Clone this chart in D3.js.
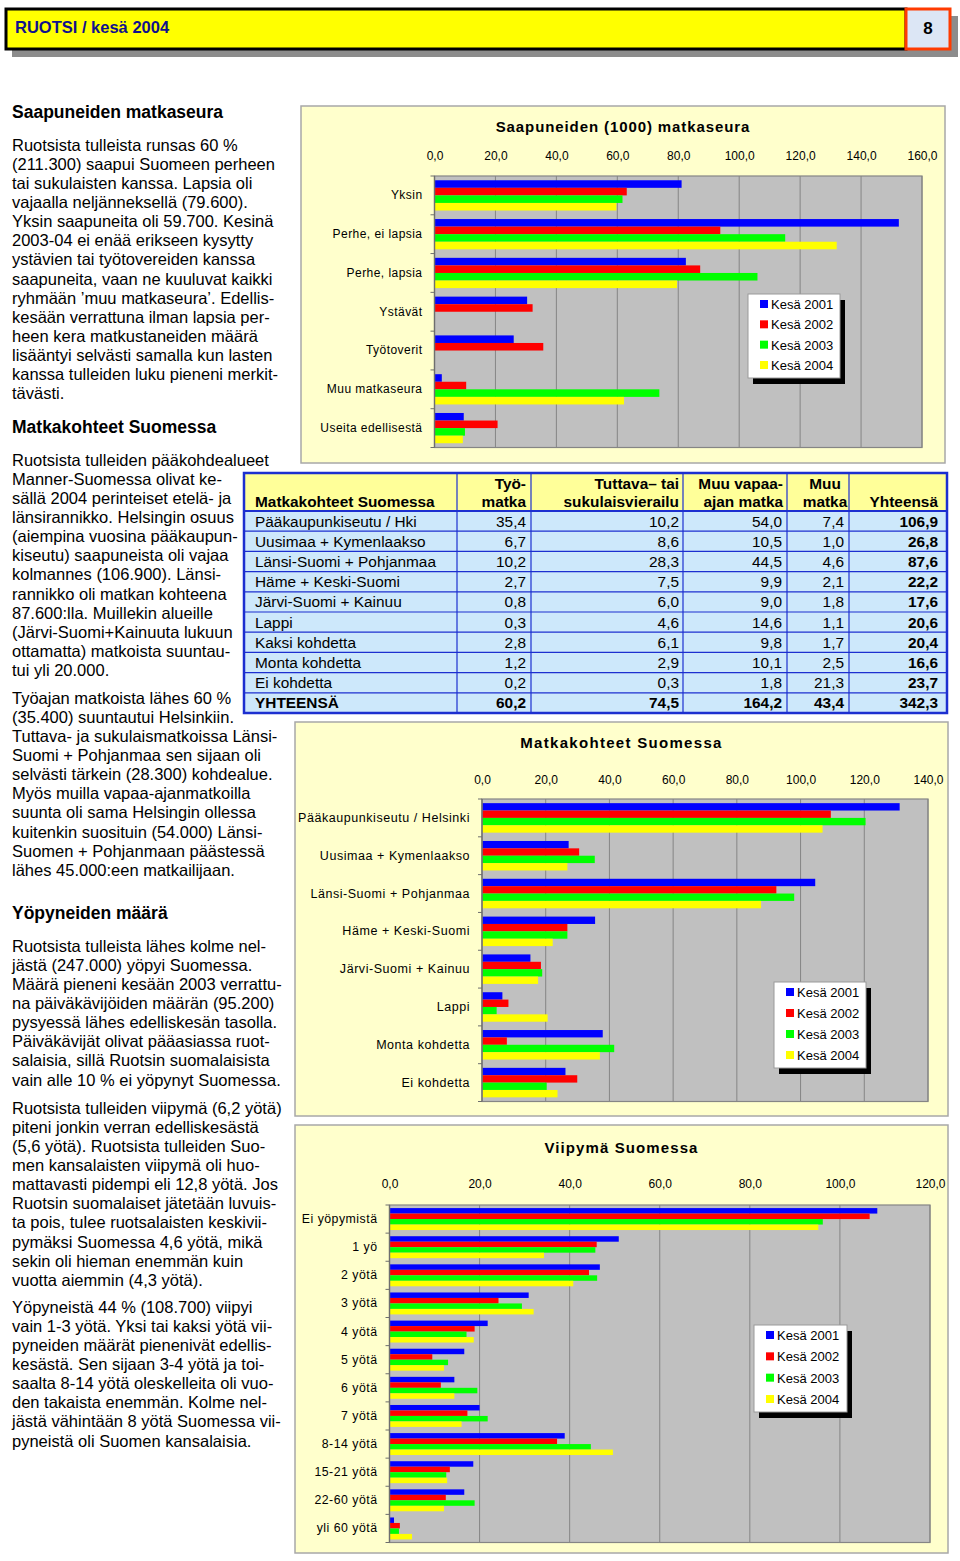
<!DOCTYPE html>
<html lang="fi">
<head>
<meta charset="UTF-8">
<title>RUOTSI / kesä 2004</title>
<script src="https://cdnjs.cloudflare.com/ajax/libs/d3/7.8.5/d3.min.js"></script>
<style>
    body { margin: 0; background: #fff; }
    svg { display: block; font-family: "Liberation Sans", Arial, sans-serif; }
    .body-text { font-size: 16.5px; fill: #000; }
    .heading { font-size: 17.5px; font-weight: bold; fill: #000; }
    .cat text { fill: #000; }
    .ticks text { font-size: 12px; fill: #000; }
    .ctitle { font-size: 15px; font-weight: bold; }
    .legend text { font-size: 13px; }
    .tbl { font-size: 15.4px; }
</style>
</head>
<body>
<script>
// --- data ---
const seriesNames = ["Kesä 2001", "Kesä 2002", "Kesä 2003", "Kesä 2004"];
const seriesColors = ["#0000ff", "#ff0000", "#00ff00", "#ffff00"];

// Saapuneiden (1000) matkaseura
const companyCats = ["Yksin", "Perhe, ei lapsia", "Perhe, lapsia", "Ystävät", "Työtoverit", "Muu matkaseura", "Useita edellisestä"];
const company2001 = [81.1, 152.4, 82.5, 30.4, 26.0, 2.4, 9.6];
const company2002 = [63.1, 93.8, 87.2, 32.2, 35.7, 10.4, 20.7];
const company2003 = [61.7, 115.1, 106.0, null, null, 73.8, 10.0];
const company2004 = [59.7, 132.0, 79.6, null, null, 62.2, 9.3];

// Matkakohteet Suomessa
const destCats = ["Pääkaupunkiseutu / Helsinki", "Uusimaa + Kymenlaakso", "Länsi-Suomi + Pohjanmaa", "Häme + Keski-Suomi", "Järvi-Suomi + Kainuu", "Lappi", "Monta kohdetta", "Ei kohdetta"];
const dest2001 = [131.1, 27.2, 104.6, 35.5, 15.2, 6.4, 37.9, 26.2];
const dest2002 = [109.5, 30.5, 92.4, 26.8, 18.5, 8.3, 7.8, 29.9];
const dest2003 = [120.4, 35.4, 98.0, 26.8, 18.9, 4.6, 41.5, 20.3];
const dest2004 = [106.9, 26.8, 87.6, 22.2, 17.6, 20.6, 37.0, 23.7];

// Viipymä Suomessa
const stayCats = ["Ei yöpymistä", "1 yö", "2 yötä", "3 yötä", "4 yötä", "5 yötä", "6 yötä", "7 yötä", "8-14 yötä", "15-21 yötä", "22-60 yötä", "yli 60 yötä"];
const stay2001 = [108.3, 50.9, 46.7, 30.9, 21.8, 16.6, 14.4, 20.0, 38.9, 18.6, 16.6, 1.0];
const stay2002 = [106.6, 46.0, 44.3, 24.2, 18.9, 9.5, 11.4, 17.3, 37.2, 13.4, 12.5, 2.3];
const stay2003 = [96.2, 45.7, 46.1, 29.4, 17.1, 13.0, 19.5, 21.8, 44.7, 12.6, 18.9, 2.1];
const stay2004 = [95.2, 34.3, 40.8, 32.0, 18.7, 12.1, 14.4, 16.0, 49.6, 12.8, 12.1, 5.0];

// taulukko
const tableHead = [["", "Matkakohteet Suomessa"], ["Työ-", "matka"], ["Tuttava– tai", "sukulaisvierailu"], ["Muu vapaa-", "ajan matka"], ["Muu", "matka"], ["", "Yhteensä"]];
const tableRows = ["Pääkaupunkiseutu / Hki", "Uusimaa + Kymenlaakso", "Länsi-Suomi + Pohjanmaa", "Häme + Keski-Suomi", "Järvi-Suomi + Kainuu", "Lappi", "Kaksi kohdetta", "Monta kohdetta", "Ei kohdetta", "YHTEENSÄ"];
const colTyo = [35.4, 6.7, 10.2, 2.7, 0.8, 0.3, 2.8, 1.2, 0.2, 60.2];
const colTuttava = [10.2, 8.6, 28.3, 7.5, 6.0, 4.6, 6.1, 2.9, 0.3, 74.5];
const colVapaa = [54.0, 10.5, 44.5, 9.9, 9.0, 14.6, 9.8, 10.1, 1.8, 164.2];
const colMuu = [7.4, 1.0, 4.6, 2.1, 1.8, 1.1, 1.7, 2.5, 21.3, 43.4];
const colYht = [106.9, 26.8, 87.6, 22.2, 17.6, 20.6, 20.4, 16.6, 23.7, 342.3];

// teksti
const para1 = ["Ruotsista tulleista runsas 60 %", "(211.300) saapui Suomeen perheen", "tai sukulaisten kanssa. Lapsia oli", "vajaalla neljänneksellä (79.600).", "Yksin saapuneita oli 59.700. Kesinä", "2003-04 ei enää erikseen kysytty", "ystävien tai työtovereiden kanssa", "saapuneita, vaan ne kuuluvat kaikki", "ryhmään ’muu matkaseura’. Edellis-", "kesään verrattuna ilman lapsia per-", "heen kera matkustaneiden määrä", "lisääntyi selvästi samalla kun lasten", "kanssa tulleiden luku pieneni merkit-", "tävästi."];
const para2 = ["Ruotsista tulleiden pääkohdealueet", "Manner-Suomessa olivat ke-", "sällä 2004 perinteiset etelä- ja", "länsirannikko. Helsingin osuus", "(aiempina vuosina pääkaupun-", "kiseutu) saapuneista oli vajaa", "kolmannes (106.900). Länsi-", "rannikko oli matkan kohteena", "87.600:lla. Muillekin alueille", "(Järvi-Suomi+Kainuuta lukuun", "ottamatta) matkoista suuntau-", "tui yli 20.000."];
const para3 = ["Työajan matkoista lähes 60 %", "(35.400) suuntautui Helsinkiin.", "Tuttava- ja sukulaismatkoissa Länsi-", "Suomi + Pohjanmaa sen sijaan oli", "selvästi tärkein (28.300) kohdealue.", "Myös muilla vapaa-ajanmatkoilla", "suunta oli sama Helsingin ollessa", "kuitenkin suosituin (54.000) Länsi-", "Suomen + Pohjanmaan päästessä", "lähes 45.000:een matkailijaan."];
const para4 = ["Ruotsista tulleista lähes kolme nel-", "jästä (247.000) yöpyi Suomessa.", "Määrä pieneni kesään 2003 verrattu-", "na päiväkävijöiden määrän (95.200)", "pysyessä lähes edelliskesän tasolla.", "Päiväkävijät olivat pääasiassa ruot-", "salaisia, sillä Ruotsin suomalaisista", "vain alle 10 % ei yöpynyt Suomessa."];
const para5 = ["Ruotsista tulleiden viipymä (6,2 yötä)", "piteni jonkin verran edelliskesästä", "(5,6 yötä). Ruotsista tulleiden Suo-", "men kansalaisten viipymä oli huo-", "mattavasti pidempi eli 12,8 yötä. Jos", "Ruotsin suomalaiset jätetään luvuis-", "ta pois, tulee ruotsalaisten keskivii-", "pymäksi Suomessa 4,6 yötä, mikä", "sekin oli hieman enemmän kuin", "vuotta aiemmin (4,3 yötä)."];
const para6 = ["Yöpyneistä 44 % (108.700) viipyi", "vain 1-3 yötä. Yksi tai kaksi yötä vii-", "pyneiden määrät pienenivät edellis-", "kesästä. Sen sijaan 3-4 yötä ja toi-", "saalta 8-14 yötä oleskelleita oli vuo-", "den takaista enemmän. Kolme nel-", "jästä vähintään 8 yötä Suomessa vii-", "pyneistä oli Suomen kansalaisia."];

const fmt = v => d3.format(".1f")(v).replace(".", ",");

const svg = d3.select("body").append("svg")
    .attr("width", 960)
    .attr("height", 1561);

// otsikkopalkki
svg.append("rect").attr("x", 12).attr("y", 16).attr("width", 946).attr("height", 41).attr("fill", "#8c8c8c");
svg.append("rect").attr("x", 6).attr("y", 9).attr("width", 900).attr("height", 40)
    .attr("fill", "#ffff00").attr("stroke", "#000").attr("stroke-width", 3);
svg.append("rect").attr("x", 906).attr("y", 9).attr("width", 44).attr("height", 40)
    .attr("fill", "#dce6f5").attr("stroke", "#ff3b00").attr("stroke-width", 3);
svg.append("text").attr("x", 15).attr("y", 33)
    .attr("font-size", 16.5).attr("font-weight", "bold").attr("fill", "#10108c")
    .text("RUOTSI / kesä 2004");
svg.append("text").attr("x", 928).attr("y", 34).attr("text-anchor", "middle")
    .attr("font-size", 17).attr("font-weight", "bold").text("8");

// vasemman palstan teksti
function heading(txt, cy) {
    svg.append("text").attr("class", "heading").attr("x", 12).attr("y", cy + 6).text(txt);
}
function para(lines, cy) {
    svg.append("g").selectAll("text").data(lines).enter().append("text")
        .attr("class", "body-text")
        .attr("x", 12)
        .attr("y", (d, i) => cy + 5.5 + i * 19.15)
        .text(d => d);
}
heading("Saapuneiden matkaseura", 112);
para(para1, 145);
heading("Matkakohteet Suomessa", 427);
para(para2, 460);
para(para3, 698);
heading("Yöpyneiden määrä", 913);
para(para4, 946);
para(para5, 1108);
para(para6, 1307);

// pylväskuviot
function barChart(o) {
    const g = svg.append("g");
    g.append("rect")
        .attr("x", o.panel[0]).attr("y", o.panel[1])
        .attr("width", o.panel[2] - o.panel[0]).attr("height", o.panel[3] - o.panel[1])
        .attr("fill", "#ffffcc").attr("stroke", "#a8a8a8").attr("stroke-width", 1.5);

    const x = d3.scaleLinear().domain([0, o.max]).range([o.x0, o.x1]);
    const y = d3.scaleBand().domain(o.cats).range([o.y0, o.y1]);
    const bw = y.bandwidth();
    const s = d3.scaleBand().domain(d3.range(seriesNames.length)).range([bw * 0.11, bw * 0.89]);

    g.append("rect")
        .attr("x", o.x0).attr("y", o.y0)
        .attr("width", o.x1 - o.x0).attr("height", o.y1 - o.y0)
        .attr("fill", "#c0c0c0");

    g.append("g").selectAll("line").data(d3.range(20, o.max + 1, 20)).enter().append("line")
        .attr("x1", d => x(d)).attr("x2", d => x(d))
        .attr("y1", o.y0).attr("y2", o.y1)
        .attr("stroke", "#858585").attr("stroke-width", 1);

    o.series.forEach((vals, si) => {
        g.append("g").selectAll("rect")
            .data(vals.map((v, i) => ({ v: v, c: o.cats[i] })).filter(d => d.v != null))
            .enter().append("rect")
            .attr("x", x(0))
            .attr("y", d => y(d.c) + s(si))
            .attr("width", d => x(d.v) - x(0))
            .attr("height", s.bandwidth())
            .attr("fill", seriesColors[si]);
    });

    g.append("rect")
        .attr("x", o.x0).attr("y", o.y0)
        .attr("width", o.x1 - o.x0).attr("height", o.y1 - o.y0)
        .attr("fill", "none").attr("stroke", "#858585").attr("stroke-width", 1.2);
    g.append("line").attr("x1", o.x0).attr("x2", o.x0).attr("y1", o.y0).attr("y2", o.y1)
        .attr("stroke", "#6e6e6e").attr("stroke-width", 1.3);

    // luokkarajojen merkit
    g.append("g").selectAll("line").data(o.cats.map(c => y(c)).concat([o.y1])).enter().append("line")
        .attr("x1", o.x0 - 4).attr("x2", o.x0)
        .attr("y1", d => d).attr("y2", d => d)
        .attr("stroke", "#6e6e6e");

    const top = g.append("g").attr("class", "ticks")
        .attr("transform", `translate(0,${o.tickY + 5})`)
        .call(d3.axisTop(x).tickValues(d3.range(0, o.max + 1, 20)).tickSize(0).tickPadding(0).tickFormat(fmt));
    top.select(".domain").remove();
    top.selectAll("text").attr("font-family", null).attr("font-size", null);

    const left = g.append("g").attr("class", "cat")
        .attr("transform", `translate(${o.x0},0)`)
        .call(d3.axisLeft(y).tickSize(0).tickPadding(12));
    left.select(".domain").remove();
    left.selectAll("text").attr("font-family", null)
        .attr("font-size", o.labelSize)
        .attr("letter-spacing", o.labelSpacing);

    g.append("text").attr("class", "ctitle")
        .attr("x", (o.panel[0] + o.panel[2]) / 2).attr("y", o.titleY + 5)
        .attr("letter-spacing", o.titleSpacing)
        .attr("text-anchor", "middle").text(o.title);

    // selite
    const L = o.legend;
    const lg = g.append("g").attr("class", "legend");
    lg.append("rect").attr("x", L[0] + 5).attr("y", L[1] + 6).attr("width", L[2] - L[0]).attr("height", L[3] - L[1]).attr("fill", "#000");
    lg.append("rect").attr("x", L[0]).attr("y", L[1]).attr("width", L[2] - L[0]).attr("height", L[3] - L[1])
        .attr("fill", "#fff").attr("stroke", "#9a9a9a");
    const ly = d3.scalePoint().domain(seriesNames).range([L[1] + 10, L[3] - 13]);
    seriesNames.forEach((nm, i) => {
        lg.append("rect").attr("x", L[0] + 12).attr("y", ly(nm) - 4).attr("width", 8).attr("height", 8).attr("fill", seriesColors[i]);
        lg.append("text").attr("x", L[0] + 23).attr("y", ly(nm) + 5).text(nm);
    });
}

barChart({
    title: "Saapuneiden (1000) matkaseura", titleSpacing: 0.9,
    cats: companyCats, series: [company2001, company2002, company2003, company2004],
    labelSize: 12, labelSpacing: 0.45,
    max: 160, panel: [301, 106, 945, 463],
    x0: 434.5, x1: 922, y0: 176, y1: 447.5,
    titleY: 127, tickY: 155, legend: [748, 294, 840, 378]
});

barChart({
    title: "Matkakohteet Suomessa", titleSpacing: 1.3,
    cats: destCats, series: [dest2001, dest2002, dest2003, dest2004],
    labelSize: 12.5, labelSpacing: 0.55,
    max: 140, panel: [295, 722, 948, 1116],
    x0: 482, x1: 928, y0: 799, y1: 1101.5,
    titleY: 743, tickY: 779, legend: [774, 982, 866, 1068]
});

barChart({
    title: "Viipymä Suomessa", titleSpacing: 1.1,
    cats: stayCats, series: [stay2001, stay2002, stay2003, stay2004],
    labelSize: 12.3, labelSpacing: 0.5,
    max: 120, panel: [295, 1125, 948, 1553],
    x0: 389.5, x1: 930, y0: 1205, y1: 1542.5,
    titleY: 1148, tickY: 1183, legend: [754, 1325, 847, 1412]
});

// taulukko
const colEdges = [244, 457, 531, 683, 787, 849, 947];
const tTop = 473, tHeadBottom = 511, rowH = 20.2;
const tbl = svg.append("g").attr("class", "tbl");
tbl.append("rect").attr("x", colEdges[0]).attr("y", tTop).attr("width", colEdges[6] - colEdges[0]).attr("height", tHeadBottom - tTop).attr("fill", "#ffff99");
tbl.append("g").selectAll("rect").data(tableRows).enter().append("rect")
    .attr("x", colEdges[0]).attr("y", (d, i) => tHeadBottom + i * rowH)
    .attr("width", colEdges[6] - colEdges[0]).attr("height", rowH)
    .attr("fill", "#cde8fb");
tbl.append("g").selectAll("line").data(d3.range(0, tableRows.length)).enter().append("line")
    .attr("x1", colEdges[0]).attr("x2", colEdges[6])
    .attr("y1", i => tHeadBottom + i * rowH).attr("y2", i => tHeadBottom + i * rowH)
    .attr("stroke", "#1c2fd0").attr("stroke-width", i => i === 0 ? 1.8 : 1.2);
tbl.append("g").selectAll("line").data(colEdges.slice(1, 6)).enter().append("line")
    .attr("x1", d => d).attr("x2", d => d)
    .attr("y1", tTop).attr("y2", tHeadBottom + tableRows.length * rowH)
    .attr("stroke", "#1c2fd0").attr("stroke-width", 1.2);
tbl.append("rect").attr("x", colEdges[0]).attr("y", tTop)
    .attr("width", colEdges[6] - colEdges[0]).attr("height", tHeadBottom - tTop + tableRows.length * rowH)
    .attr("fill", "none").attr("stroke", "#1c2fd0").attr("stroke-width", 2.5);

const headX = [255, 526, 679, 783, 825, 938];
const headAnchor = ["start", "end", "end", "end", "middle", "end"];
tableHead.forEach((h, c) => {
    h.forEach((line, k) => {
        tbl.append("text").attr("x", headX[c]).attr("y", tTop + 16 + k * 18)
            .attr("text-anchor", headAnchor[c]).attr("font-weight", "bold").text(line);
    });
});
const cols = [colTyo, colTuttava, colVapaa, colMuu, colYht];
const colRight = [526, 679, 782, 844, 938];
tableRows.forEach((r, i) => {
    const yb = tHeadBottom + i * rowH + 15.5;
    const last = i === tableRows.length - 1;
    tbl.append("text").attr("x", 255).attr("y", yb).attr("font-weight", last ? "bold" : null).text(r);
    cols.forEach((col, c) => {
        tbl.append("text").attr("x", colRight[c]).attr("y", yb).attr("text-anchor", "end")
            .attr("font-weight", (last || c === 4) ? "bold" : null)
            .text(fmt(col[i]));
    });
});
</script>
</body>
</html>
